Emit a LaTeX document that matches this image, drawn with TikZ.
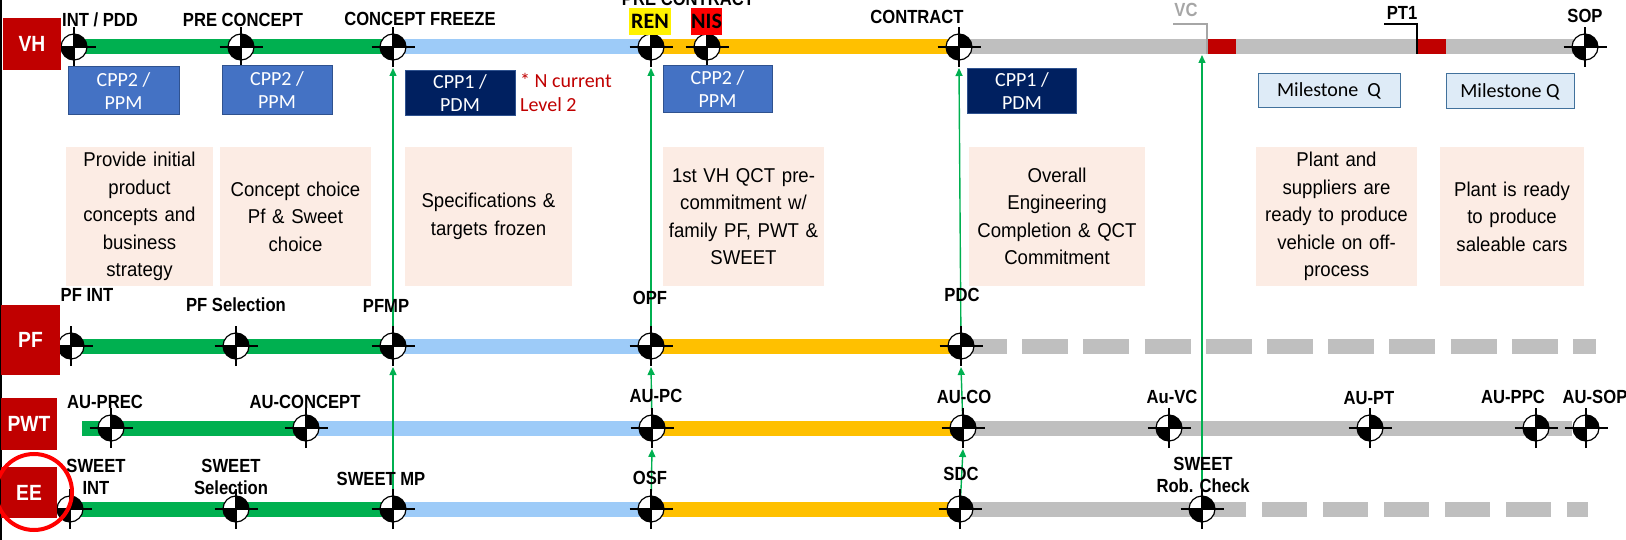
\documentclass[tikz,border=0pt]{standalone}
\usepackage{fontspec}
\setmainfont{Liberation Sans}
\newfontfamily\labfont[FakeStretch=0.875]{Liberation Sans}
\newfontfamily\descfont[FakeStretch=0.93]{Liberation Sans}
\newfontfamily\calfont{Carlito}
\usetikzlibrary{arrows.meta}
\definecolor{gbar}{HTML}{00B050}
\definecolor{bbar}{RGB}{157,203,248}
\definecolor{obar}{HTML}{FFC000}
\definecolor{greybar}{HTML}{BFBFBF}
\definecolor{dred}{HTML}{C00000}
\definecolor{cppA}{HTML}{4472C4}
\definecolor{cppAb}{HTML}{2F528F}
\definecolor{cppB}{HTML}{002060}
\definecolor{mqfill}{HTML}{DEEBF7}
\definecolor{mqdraw}{HTML}{41719C}
\definecolor{peach}{RGB}{252,236,228}
\definecolor{vcgrey}{HTML}{A6A6A6}
\definecolor{ringred}{HTML}{FF0000}
\tikzset{
  mst/.pic={
    \fill[white] (0pt,0pt) circle[radius=13pt];
    \fill[black] (0pt,0pt) -- (13pt,0pt) arc[start angle=0,end angle=90,radius=13pt] -- cycle;
    \fill[black] (0pt,0pt) -- (-13pt,0pt) arc[start angle=180,end angle=270,radius=13pt] -- cycle;
    \draw[line width=1.2pt] (0pt,0pt) circle[radius=13pt];
    \draw[line width=2pt] (-21.5pt,0pt) -- (21.5pt,0pt) (0pt,-20pt) -- (0pt,20pt);
  },
  bar/.style={line width=15pt},
  conn/.style={draw=gbar, line width=1.4pt, -{Triangle[width=7pt,length=8pt]}},
  lab/.style={font=\labfont\bfseries\fontsize{19}{22}\selectfont, inner sep=0, align=center},
  rowlab/.style={fill=dred, text=white, font=\labfont\bfseries\fontsize{22}{24}\selectfont, inner sep=0},
  descbox/.style={fill=peach, font=\descfont\fontsize{20}{27.5}\selectfont, align=center, inner xsep=3pt, inner ysep=0, minimum height=139},
  cppbox/.style={fill=cppA, draw=cppAb, line width=1pt, text=white, font=\calfont\fontsize{20}{23}\selectfont, align=center, inner sep=0},
  mqbox/.style={fill=mqfill, draw=mqdraw, line width=1pt, font=\calfont\fontsize{20}{23}\selectfont, inner sep=0},
  tagbox/.style={font=\calfont\bfseries\fontsize{22}{24}\selectfont, inner sep=0, minimum height=27},
}
\begin{document}
\begin{tikzpicture}[x=1pt,y=-1pt]
\useasboundingbox (0,0) rectangle (1626,540);
% left border
\draw[line width=1.5pt] (1,0) -- (1,540);
% ---- milestone coordinates ----
\coordinate (intpdd) at (74,47);
\coordinate (precon) at (241,47);
\coordinate (cfreeze) at (393,47);
\coordinate (ren) at (651,47);
\coordinate (nis) at (707,47);
\coordinate (contract) at (959,47);
\coordinate (sop) at (1585,47);
\coordinate (vctarget) at (1202,55);
\coordinate (pfint) at (71,346);
\coordinate (pfsel) at (236,346);
\coordinate (pfmp) at (393,346);
\coordinate (opf) at (651,346);
\coordinate (pdc) at (961,346);
\coordinate (pfend) at (1596,346);
\coordinate (pwtstart) at (82,428);
\coordinate (auprec) at (111,428);
\coordinate (auconc) at (306,428);
\coordinate (aupc) at (652,428);
\coordinate (auco) at (963,428);
\coordinate (auvc) at (1169,428);
\coordinate (aupt) at (1370,428);
\coordinate (auppc) at (1536,428);
\coordinate (ausop) at (1586,428);
\coordinate (pwtend) at (1572,428);
\coordinate (sweetint) at (70,509);
\coordinate (sweetsel) at (236,509);
\coordinate (sweetmp) at (393,509);
\coordinate (osf) at (651,509);
\coordinate (sdc) at (960,509);
\coordinate (robcheck) at (1202,509);
\coordinate (eesolidend) at (1246,509);
\coordinate (eedashstart) at (1262,509);
\coordinate (eeend) at (1588,509);
% ---- bars ----
\draw[bar, draw=gbar] (intpdd) -- (cfreeze);
\draw[bar, draw=bbar] (cfreeze) -- (ren);
\draw[bar, draw=obar] (ren) -- (contract);
\draw[bar, draw=greybar] (contract) -- (sop);
\fill[dred] (1208,39.5) rectangle (1236,54.5);
\fill[dred] (1418,39.5) rectangle (1446,54.5);
\draw[vcgrey, line width=2pt] (1173,24) -- (1207,24) -- (1207,54.5);
\draw[black, line width=2pt] (1384,24) -- (1417,24) -- (1417,54.5);

\draw[bar, draw=gbar] (pfint) -- (pfmp);
\draw[bar, draw=bbar] (pfmp) -- (opf);
\draw[bar, draw=obar] (opf) -- (pdc);
\draw[bar, draw=greybar, dash pattern=on 46pt off 15.2pt] (pdc) -- (pfend);

\draw[bar, draw=gbar] (pwtstart) -- (auconc);
\draw[bar, draw=bbar] (auconc) -- (aupc);
\draw[bar, draw=obar] (aupc) -- (auco);
\draw[bar, draw=greybar] (auco) -- (pwtend);

\draw[bar, draw=gbar] (sweetint) -- (sweetmp);
\draw[bar, draw=bbar] (sweetmp) -- (osf);
\draw[bar, draw=obar] (osf) -- (sdc);
\draw[bar, draw=greybar] (sdc) -- (eesolidend);
\draw[bar, draw=greybar, dash pattern=on 45pt off 16pt] (eedashstart) -- (eeend);
% ---- connectors ----
\draw[conn] (sweetmp) -- ([yshift=-21pt]pfmp);
\draw[conn] (pfmp) -- ([yshift=-21pt]cfreeze);
\draw[conn] (osf) -- ([yshift=-21pt]aupc);
\draw[conn] (aupc) -- ([yshift=-21pt]opf);
\draw[conn] (opf) -- ([yshift=-21pt]ren);
\draw[conn] (sdc) -- ([yshift=-21pt]auco);
\draw[conn] (auco) -- ([yshift=-21pt]pdc);
\draw[conn] (pdc) -- ([yshift=-21pt]contract);
\draw[conn] (robcheck) -- (vctarget);
% ---- milestones ----
\foreach \m in {intpdd,precon,cfreeze,ren,nis,contract,sop,
  pfint,pfsel,pfmp,opf,pdc,
  auprec,auconc,aupc,auco,auvc,aupt,auppc,ausop,
  sweetint,sweetsel,sweetmp,osf,sdc,robcheck}
  {\pic at (\m) {mst};}
% ---- row labels ----
\node[rowlab, minimum width=58, minimum height=52] (rvh) at (32,44) {VH};
\node[rowlab, minimum width=59, minimum height=70] (rpf) at (30.5,340) {PF};
\node[rowlab, minimum width=56, minimum height=52] (rpwt) at (29,424) {PWT};
\node[rowlab, minimum width=56, minimum height=51] (ree) at (29,492.5) {EE};
\draw[ringred, line width=4pt] (34,492) circle[radius=38pt];
% ---- VH labels ----
\node[lab] (lintpdd) at (100,20) {INT / PDD};
\node[lab] (lprecon) at (243,20) {PRE CONCEPT};
\node[lab] (lcfreeze) at (420,19) {CONCEPT FREEZE};
\node[lab] (lprecontract) at (688,-1) {PRE CONTRACT};
\node[tagbox, fill=yellow, minimum width=42] (lren) at (650,21.5) {REN};
\node[tagbox, fill=ringred, minimum width=29] (lnis) at (706.5,21.5) {NIS};
\node[lab] (lcontract) at (917,17) {CONTRACT};
\node[lab, text=vcgrey] (lvc) at (1186,10) {VC};
\node[lab] (lpt1) at (1402,13) {PT1};
\node[lab] (lsop) at (1585,16) {SOP};
% ---- PF labels ----
\node[lab] (lpfint) at (87,295) {PF INT};
\node[lab] (lpfsel) at (236,305) {PF Selection};
\node[lab] (lpfmp) at (386,306) {PFMP};
\node[lab] (lopf) at (650,298) {OPF};
\node[lab] (lpdc) at (962,295) {PDC};
% ---- PWT labels ----
\node[lab] (lauprec) at (105,402) {AU-PREC};
\node[lab] (lauconc) at (305,402) {AU-CONCEPT};
\node[lab] (laupc) at (656,396) {AU-PC};
\node[lab] (lauco) at (964,397) {AU-CO};
\node[lab] (lauvc) at (1172,397) {Au-VC};
\node[lab] (laupt) at (1369,398) {AU-PT};
\node[lab] (lauppc) at (1513,397) {AU-PPC};
\node[lab] (lausop) at (1595,397) {AU-SOP};
% ---- EE labels ----
\node[lab] (lsweetint) at (96,477) {SWEET\\INT};
\node[lab] (lsweetsel) at (231,477) {SWEET\\Selection};
\node[lab] (lsweetmp) at (381,479) {SWEET MP};
\node[lab] (losf) at (650,478) {OSF};
\node[lab] (lsdc) at (961,474) {SDC};
\node[lab] (lrob) at (1203,475) {SWEET\\Rob. Check};
% ---- CPP boxes ----
\node[cppbox, minimum width=111, minimum height=48] (cppa) at (123.5,91) {CPP2 /\\PPM};
\node[cppbox, minimum width=110, minimum height=49] (cppb) at (277,90.5) {CPP2 /\\PPM};
\node[cppbox, fill=cppB, minimum width=110, minimum height=45] (cppc) at (460,93) {CPP1 /\\PDM};
\node[cppbox, minimum width=109, minimum height=47] (cppd) at (717.5,89.5) {CPP2 /\\PPM};
\node[cppbox, fill=cppB, minimum width=109, minimum height=45] (cppe) at (1022,91) {CPP1 /\\PDM};
\node[mqbox, minimum width=142, minimum height=34] (mqa) at (1329,91) {Milestone\ \ Q};
\node[mqbox, minimum width=128, minimum height=35] (mqb) at (1510,91.5) {Milestone Q};
\node[anchor=west, text=dred, font=\calfont\fontsize{20}{24}\selectfont, align=left, inner sep=0] (ncur) at (520,92) {* N current\\Level 2};
% ---- description boxes ----
\node[descbox, text width=141] (d1) at (139.5,216.5) {Provide initial\\product\\concepts and\\business\\strategy};
\node[descbox, text width=145] (d2) at (295.5,216.5) {Concept choice\\Pf \& Sweet\\choice};
\node[descbox, text width=161] (d3) at (488.5,216.5) {Specifications \&\\targets frozen};
\node[descbox, text width=155] (d4) at (743.5,216.5) {1st VH QCT pre-\\commitment w/\\family PF, PWT \&\\SWEET};
\node[descbox, text width=170] (d5) at (1057,216.5) {Overall\\Engineering\\Completion \& QCT\\Commitment};
\node[descbox, text width=155] (d6) at (1336.5,216.5) {Plant and\\suppliers are\\ready to produce\\vehicle on off-\\process};
\node[descbox, text width=138] (d7) at (1512,216.5) {Plant is ready\\to produce\\saleable cars};
\end{tikzpicture}
\end{document}
